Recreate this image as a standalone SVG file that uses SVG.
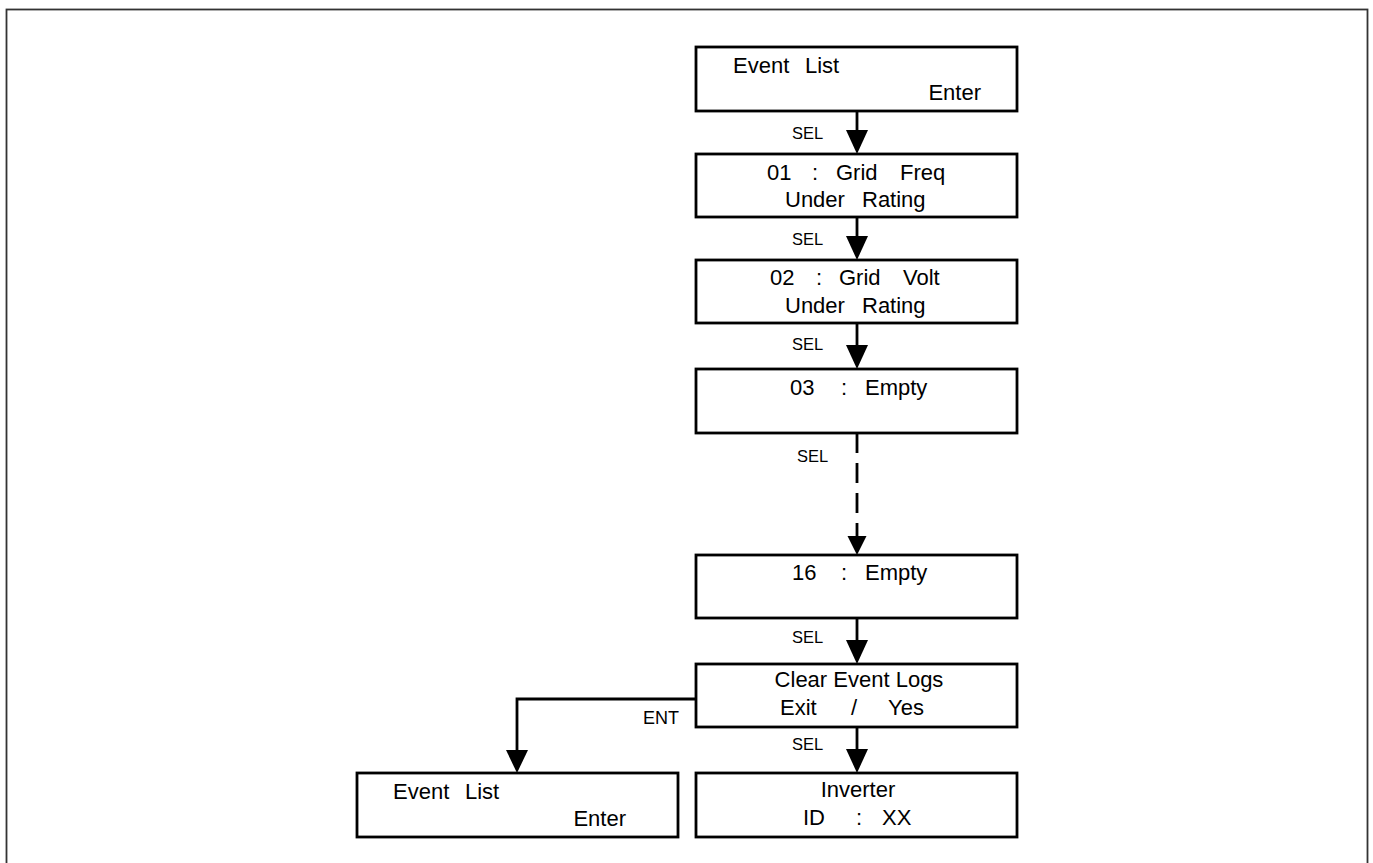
<svg xmlns="http://www.w3.org/2000/svg" width="1373" height="863" viewBox="0 0 1373 863">
<style>
.box{fill:#fff;stroke:#000;stroke-width:2.8}
.t{font-family:"Liberation Sans",Arial,sans-serif;font-size:22px;fill:#000}
.c{text-anchor:middle}
.e{text-anchor:end}
.lbl{font-family:"Liberation Sans",Arial,sans-serif;font-size:16.5px;fill:#000}
.ln{stroke:#000;stroke-width:2.8;fill:none}
.ah{fill:#000}
</style>
<rect x="6.5" y="9.5" width="1361" height="870" fill="none" stroke="#333" stroke-width="1.8"/>
<g id="connectors">
<line class="ln" x1="857" y1="111" x2="857" y2="132"/>
<path class="ah" d="M846,130 L868,130 L857,154 Z"/>
<line class="ln" x1="857" y1="217" x2="857" y2="238"/>
<path class="ah" d="M846,236 L868,236 L857,260 Z"/>
<line class="ln" x1="857" y1="323" x2="857" y2="347"/>
<path class="ah" d="M846,345 L868,345 L857,369 Z"/>
<line class="ln" x1="857" y1="433" x2="857" y2="538" stroke-dasharray="20,10"/>
<path class="ah" d="M847.5,536 L866.5,536 L857,555 Z"/>
<line class="ln" x1="857" y1="618" x2="857" y2="642"/>
<path class="ah" d="M846,640 L868,640 L857,664 Z"/>
<line class="ln" x1="857" y1="727" x2="857" y2="751"/>
<path class="ah" d="M846,749 L868,749 L857,773 Z"/>
<polyline class="ln" points="697,699 517,699 517,752"/>
<path class="ah" d="M506,750 L528,750 L517,773 Z"/>
<text class="lbl" x="792" y="139">SEL</text>
<text class="lbl" x="792" y="245">SEL</text>
<text class="lbl" x="792" y="350">SEL</text>
<text class="lbl" x="797" y="462">SEL</text>
<text class="lbl" x="792" y="643">SEL</text>
<text class="lbl" x="792" y="750">SEL</text>
<text class="lbl" x="643" y="724" style="font-size:18px">ENT</text>
</g>
<g id="n1">
<rect class="box" x="696" y="47" width="321" height="64"/>
<text class="t" x="733" y="73">Event<tspan x="805">List</tspan></text>
<text class="t e" x="981" y="100">Enter</text>
</g>
<g id="n2">
<rect class="box" x="696" y="154" width="321" height="63"/>
<text class="t" x="767" y="180">01<tspan x="812">:</tspan><tspan x="836">Grid</tspan><tspan x="900">Freq</tspan></text>
<text class="t" x="785" y="207">Under<tspan x="862">Rating</tspan></text>
</g>
<g id="n3">
<rect class="box" x="696" y="260" width="321" height="63"/>
<text class="t" x="770" y="285">02<tspan x="816">:</tspan><tspan x="839">Grid</tspan><tspan x="903">Volt</tspan></text>
<text class="t" x="785" y="313">Under<tspan x="862">Rating</tspan></text>
</g>
<g id="n4">
<rect class="box" x="696" y="369" width="321" height="64"/>
<text class="t" x="790" y="395">03<tspan x="841">:</tspan><tspan x="865">Empty</tspan></text>
</g>
<g id="n5">
<rect class="box" x="696" y="555" width="321" height="63"/>
<text class="t" x="792" y="580">16<tspan x="841">:</tspan><tspan x="865">Empty</tspan></text>
</g>
<g id="n6">
<rect class="box" x="696" y="664" width="321" height="63"/>
<text class="t c" x="859" y="687">Clear Event Logs</text>
<text class="t" x="780" y="715">Exit<tspan x="851">/</tspan><tspan x="888">Yes</tspan></text>
</g>
<g id="n7">
<rect class="box" x="696" y="773" width="321" height="64"/>
<text class="t c" x="858" y="797">Inverter</text>
<text class="t" x="803" y="825">ID<tspan x="856">:</tspan><tspan x="882">XX</tspan></text>
</g>
<g id="n8">
<rect class="box" x="357" y="773" width="321" height="64"/>
<text class="t" x="393" y="799">Event<tspan x="465">List</tspan></text>
<text class="t e" x="626" y="826">Enter</text>
</g>
</svg>
